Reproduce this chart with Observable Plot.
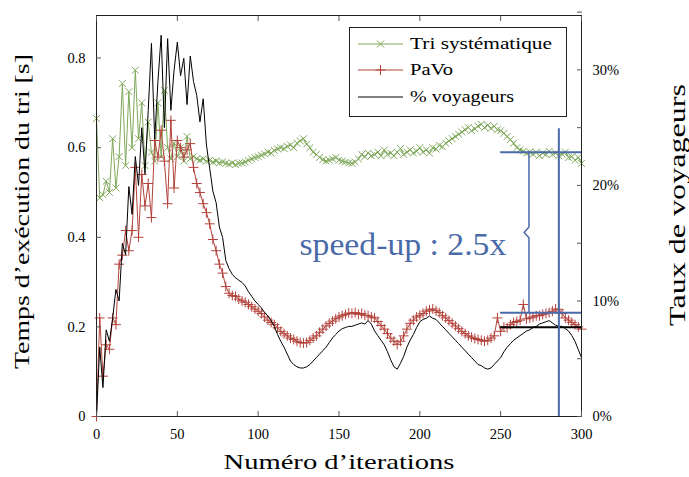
<!DOCTYPE html>
<html><head><meta charset="utf-8">
<script src="https://cdn.jsdelivr.net/npm/d3@7"></script>
<script src="https://cdn.jsdelivr.net/npm/@observablehq/plot@0.6"></script>
<style>
body{margin:0;background:#fff;}
#wrap{position:relative;width:689px;height:477px;}
#legend{position:absolute;left:349px;top:27px;}
</style></head><body><div id="wrap"></div>
<script>
// x: iteration number (every 2nd iteration)
const iterations = d3.range(0, 301, 2);
// Tri systématique (s)
const triSystematique = [
0.665,0.488,0.495,0.525,0.50,0.62,0.51,0.58,0.743,0.56,
0.725,0.60,0.773,0.62,0.70,0.56,0.657,0.59,0.57,0.70,
0.58,0.728,0.60,0.575,0.61,0.58,0.60,0.57,0.625,0.575,
0.58,0.575,0.572,0.575,0.57,0.572,0.568,0.57,0.566,0.568,
0.565,0.563,0.566,0.562,0.565,0.566,0.568,0.572,0.575,0.578,
0.58,0.583,0.586,0.59,0.588,0.594,0.597,0.60,0.598,0.603,
0.606,0.60,0.61,0.615,0.62,0.608,0.60,0.59,0.585,0.578,
0.573,0.57,0.572,0.575,0.578,0.572,0.57,0.568,0.566,0.565,
0.568,0.575,0.585,0.58,0.588,0.582,0.585,0.59,0.582,0.595,
0.585,0.588,0.582,0.59,0.598,0.585,0.59,0.595,0.588,0.592,
0.60,0.59,0.595,0.588,0.60,0.597,0.605,0.602,0.61,0.615,
0.62,0.625,0.63,0.635,0.64,0.645,0.638,0.642,0.648,0.652,
0.645,0.65,0.643,0.648,0.64,0.638,0.632,0.625,0.618,0.61,
0.60,0.595,0.592,0.588,0.59,0.585,0.59,0.582,0.588,0.585,
0.592,0.585,0.588,0.582,0.585,0.59,0.578,0.58,0.572,0.578,
0.565];
// PaVo (s)
const pavo = [
0.0,0.22,0.09,0.16,0.15,0.22,0.205,0.34,0.36,0.415,
0.37,0.415,0.556,0.40,0.54,0.47,0.52,0.444,0.616,0.579,
0.639,0.57,0.475,0.661,0.51,0.616,0.60,0.579,0.595,0.609,
0.556,0.52,0.50,0.475,0.455,0.43,0.395,0.37,0.34,0.32,
0.29,0.275,0.27,0.268,0.262,0.258,0.255,0.25,0.245,0.24,
0.235,0.23,0.222,0.215,0.21,0.205,0.198,0.19,0.185,0.18,
0.175,0.172,0.168,0.165,0.164,0.165,0.17,0.175,0.18,0.188,
0.195,0.202,0.208,0.213,0.218,0.222,0.225,0.228,0.231,0.23,
0.232,0.228,0.23,0.226,0.225,0.222,0.22,0.212,0.203,0.195,
0.185,0.175,0.168,0.161,0.168,0.18,0.195,0.208,0.215,0.222,
0.226,0.23,0.235,0.238,0.24,0.236,0.232,0.225,0.22,0.214,
0.208,0.202,0.196,0.19,0.185,0.18,0.177,0.174,0.172,0.17,
0.168,0.17,0.175,0.18,0.22,0.19,0.2,0.198,0.205,0.21,
0.212,0.215,0.25,0.218,0.22,0.222,0.225,0.225,0.228,0.23,
0.232,0.235,0.24,0.238,0.23,0.22,0.215,0.21,0.205,0.2,
0.195];
// % voyageurs (percent, right axis)
const voyageursPct = [
0,6,2.5,7.5,6.5,8.5,11,10,15,14,
19.9,17.5,22.5,20,25,21,26.5,32.3,24,29,
33,25,32.7,26.5,30,32.4,29.5,31,27,31.2,
29,27.8,25.5,27.5,23.5,21.5,19.5,18.5,16.4,15.5,
13.5,12.8,12.3,12,11.8,11.6,11.3,10.8,10.4,10.0,
9.7,9.4,9.0,8.7,8.3,7.8,7.1,6.5,6.0,5.4,
4.8,4.5,4.3,4.2,4.2,4.3,4.5,4.8,5.1,5.4,
5.7,6.0,6.4,6.8,7.1,7.4,7.6,7.7,7.8,7.8,
7.9,8.0,8.1,8.0,8.3,8.0,7.4,7.0,6.6,6.2,
5.6,4.9,4.3,4.1,4.6,5.2,6.0,6.6,7.1,7.7,
8.2,8.4,8.5,8.7,8.5,8.4,8.1,7.8,7.5,7.2,
6.9,6.6,6.3,6.0,5.7,5.4,5.1,4.8,4.5,4.4,
4.2,4.1,4.2,4.5,4.8,5.1,5.6,6.0,6.3,6.6,
6.8,7.0,7.2,7.4,7.5,7.7,7.8,8.0,8.1,8.2,
8.3,8.1,7.9,7.8,7.8,7.6,7.4,7.0,6.5,5.8,
5.1];

const xTicks = [0, 50, 100, 150, 200, 250, 300];
const yTicks = [0, 0.2, 0.4, 0.6, 0.8];
const pctTicks = [0, 10, 20, 30];
const pctMinorTicks = [0, 5, 10, 15, 20, 25, 30, 35];
const seriesNames = ["Tri systématique", "PaVo", "% voyageurs"];
const yTitle = "Temps d’exécution du tri [s]";
const xTitle = "Numéro d’iterations";
const y2Title = "Taux de voyageurs";

// annotation values
const refStart = 250, refEnd = 300;
const triRef = 0.59, pavoRef = 0.2315, voyRef = 7.72;
const vLineX = 286, vLineTop = 0.642;
const braceX = 267.5;
const speedupLabel = "speed-up : 2.5x";
const speedupX = 189.5, speedupY = 0.383;

const green = "#7fa95b", red = "#b3423b", blue = "#4a6aa8";
const k = 11.55 / 447.9; // percent -> seconds-axis units

const rows = iterations.map((it, i) => ({it, tri: triSystematique[i], pavo: pavo[i], voy: voyageursPct[i] * k}));
const mid = (triRef + pavoRef) / 2;
const brace = [
  {x: braceX, y: triRef}, {x: braceX, y: mid + 0.012}, {x: braceX - 3, y: mid},
  {x: braceX, y: mid - 0.012}, {x: braceX, y: pavoRef}
];
const serif = "Liberation Serif";

const chart = Plot.plot({
  width: 689, height: 477,
  marginLeft: 96, marginRight: 108, marginTop: 15, marginBottom: 61,
  style: {fontFamily: serif, fontSize: "14.5px", color: "#000", background: "#fff", overflow: "visible"},
  x: {domain: [0, 300]},
  y: {domain: [0, 0.895]},
  marks: [
    Plot.line(rows, {x: "it", y: "tri", stroke: green, strokeWidth: 1}),
    Plot.dot(rows, {x: "it", y: "tri", symbol: "times", r: 3.2, stroke: green, fill: "none", strokeWidth: 1}),
    Plot.line(rows, {x: "it", y: "pavo", stroke: red, strokeWidth: 1}),
    Plot.dot(rows, {x: "it", y: "pavo", symbol: "plus", r: 3.3, stroke: red, fill: "none", strokeWidth: 1}),
    Plot.line(rows, {x: "it", y: "voy", stroke: "#000", strokeWidth: 1}),
    Plot.ruleY([triRef], {x1: refStart, x2: refEnd, stroke: blue, strokeWidth: 2}),
    Plot.ruleY([pavoRef], {x1: refStart, x2: refEnd, stroke: blue, strokeWidth: 2}),
    Plot.ruleY([voyRef * k], {x1: refStart, x2: refEnd, stroke: "#000", strokeWidth: 2}),
    Plot.ruleX([vLineX], {y1: 0, y2: vLineTop, stroke: blue, strokeWidth: 2}),
    Plot.line(brace, {x: "x", y: "y", stroke: blue, strokeWidth: 1.5}),
    Plot.text([speedupLabel], {x: speedupX, y: speedupY, text: d => d, fill: blue, fontSize: 31, fontFamily: serif}),
    Plot.frame({stroke: "#222"}),
    Plot.axisX({anchor: "bottom", ticks: xTicks, tickSize: -5, tickPadding: 17, stroke: "#555", label: null}),
    Plot.axisX({anchor: "top", ticks: xTicks, tickSize: -5, stroke: "#555", fill: "none", label: null}),
    Plot.axisY({anchor: "left", ticks: yTicks, tickSize: -5, tickPadding: 16, stroke: "#555", label: null,
      tickFormat: d => d === 0 ? "0" : d.toFixed(1)}),
    Plot.axisY({anchor: "right", ticks: pctMinorTicks.map(p => p * k), tickSize: -5, stroke: "#555", fill: "none", label: null}),
    Plot.axisY({anchor: "right", ticks: pctTicks.map(p => p * k), tickSize: 0, tickPadding: 11, label: null,
      tickFormat: v => Math.round(v / k) + "%"}),
    Plot.text([yTitle], {frameAnchor: "left", textAnchor: "middle", text: d => d, rotate: -90, dx: -74.5, dy: -4.5, fontSize: 22, fontFamily: serif}),
    Plot.text([xTitle], {frameAnchor: "bottom", textAnchor: "middle", text: d => d, dy: 52, fontSize: 22, fontFamily: serif}),
    Plot.text([y2Title], {frameAnchor: "right", textAnchor: "middle", text: d => d, rotate: -90, dx: 96, dy: -11, fontSize: 23.5, fontFamily: serif})
  ]
});
const wrap = document.getElementById("wrap");
wrap.appendChild(chart);

// widen serif text along its own direction to the wide Computer Modern look of the original
const textLengths = new Map([[speedupLabel, 207], [yTitle, 315], [xTitle, 231], [y2Title, 242]]);
chart.querySelectorAll("text").forEach(t => {
  const L = textLengths.get(t.textContent);
  if (!L) return;
  const w = t.getComputedTextLength();
  if (!(w > 0)) return;
  const tr = t.getAttribute("transform");
  if (tr) t.setAttribute("transform", `${tr} scale(${L / w},1)`);
});

// legend
const ns = "http://www.w3.org/2000/svg";
const lg = document.createElementNS(ns, "svg");
lg.setAttribute("id", "legend");
lg.setAttribute("width", 219); lg.setAttribute("height", 91);
const rowY = [17, 43, 70];
const legendLengths = [142, 43, 104];
const colors = [green, red, "#000"];
const syms = ["times", "plus", null];
let html = `<rect x="0.5" y="0.5" width="217" height="89" fill="#fff" stroke="#222"/>`;
seriesNames.forEach((name, i) => {
  const y = rowY[i], c = colors[i];
  html += `<line x1="9" x2="54" y1="${y}" y2="${y}" stroke="${c}" stroke-width="1"/>`;
  if (syms[i] === "times") html += `<path d="M28,${y-3.5}l7,7M28,${y+3.5}l7,-7" stroke="${c}" fill="none"/>`;
  if (syms[i] === "plus") html += `<path d="M26.5,${y}h10M31.5,${y-5}v10" stroke="${c}" fill="none"/>`;
  html += `<text x="61" y="${y + 5}" font-family="Liberation Serif" font-size="16.5" textLength="${legendLengths[i]}" lengthAdjust="spacingAndGlyphs" fill="#000">${name}</text>`;
});
lg.innerHTML = html;
wrap.appendChild(lg);
</script></body></html>
